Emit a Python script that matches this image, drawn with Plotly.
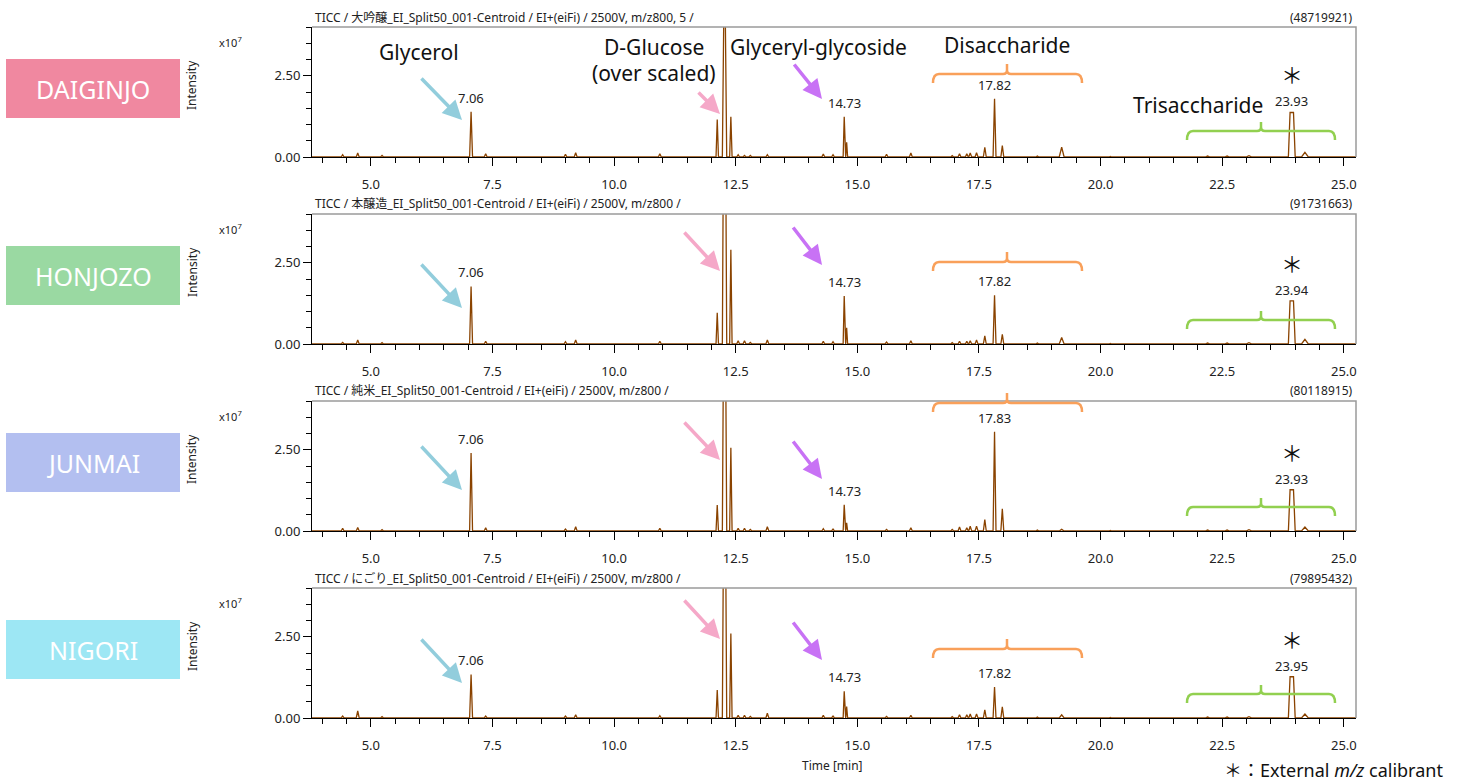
import plotly.graph_objects as go

W, H = 1467, 783
FONT = "Noto Sans, Noto Sans CJK JP, sans-serif"

# ---------------- data ----------------
samples = ["DAIGINJO", "HONJOZO", "JUNMAI", "NIGORI"]
sample_colors = ["#F088A0", "#9AD9A2", "#B3BFF0", "#9DE7F4"]
titles = [
    "TICC / 大吟醸_EI_Split50_001-Centroid / EI+(eiFi) / 2500V, m/z800, 5 /",
    "TICC / 本醸造_EI_Split50_001-Centroid / EI+(eiFi) / 2500V, m/z800 /",
    "TICC / 純米_EI_Split50_001-Centroid / EI+(eiFi) / 2500V, m/z800 /",
    "TICC / にごり_EI_Split50_001-Centroid / EI+(eiFi) / 2500V, m/z800 /",
]
max_intensity = ["(48719921)", "(91731663)", "(80118915)", "(79895432)"]

# retention times [min] of the peaks in the TIC chromatograms
peak_times = [4.42, 4.73, 5.23, 7.06, 7.36, 9.00, 9.21, 10.94, 12.12, 12.27,
              12.40, 12.55, 12.68, 12.80, 13.15, 14.30, 14.50, 14.73, 14.78, 15.60,
              16.10, 16.95, 17.10, 17.25, 17.32, 17.45, 17.62, 17.82, 17.98, 18.70,
              19.20, 20.20, 22.20, 22.60, 23.05, 23.93, 24.20, 24.70]
# peak half widths at base [min]
peak_halfwidths = [0.03, 0.03, 0.03, 0.03, 0.03, 0.03, 0.03, 0.03, 0.025, 0.045,
                   0.025, 0.03, 0.03, 0.03, 0.03, 0.03, 0.03, 0.022, 0.02, 0.03,
                   0.03, 0.03, 0.03, 0.03, 0.03, 0.03, 0.03, 0.03, 0.03, 0.03,
                   0.05, 0.03, 0.05, 0.05, 0.06, 0.07, 0.07, 0.03]
# flat-top half widths [min]
peak_plateaus = [0, 0, 0, 0, 0, 0, 0, 0, 0, 0.012,
                 0, 0, 0, 0, 0, 0, 0, 0, 0, 0,
                 0, 0, 0, 0, 0, 0, 0, 0, 0, 0,
                 0, 0, 0, 0, 0, 0.035, 0, 0]
# intensities (x10^7) per sample
heights_daiginjo = [0.07, 0.12, 0.05, 1.39, 0.10, 0.08, 0.13, 0.10, 1.15, 4.87,
                    1.24, 0.07, 0.05, 0.05, 0.07, 0.09, 0.07, 1.24, 0.45, 0.08,
                    0.12, 0.04, 0.10, 0.10, 0.12, 0.13, 0.30, 1.79, 0.35, 0.03,
                    0.30, 0.02, 0.03, 0.03, 0.04, 1.37, 0.14, 0.02]
heights_honjozo = [0.05, 0.12, 0.04, 1.77, 0.08, 0.07, 0.12, 0.08, 0.96, 9.17,
                   2.90, 0.10, 0.10, 0.05, 0.12, 0.08, 0.07, 1.48, 0.50, 0.06,
                   0.10, 0.04, 0.08, 0.08, 0.10, 0.12, 0.25, 1.50, 0.30, 0.03,
                   0.20, 0.02, 0.03, 0.03, 0.04, 1.33, 0.14, 0.02]
heights_junmai = [0.08, 0.11, 0.04, 2.40, 0.10, 0.06, 0.13, 0.08, 0.80, 8.01,
                  2.56, 0.08, 0.08, 0.05, 0.13, 0.07, 0.06, 0.81, 0.25, 0.05,
                  0.10, 0.05, 0.12, 0.10, 0.15, 0.15, 0.35, 3.05, 0.68, 0.03,
                  0.05, 0.02, 0.03, 0.03, 0.04, 1.27, 0.12, 0.02]
heights_nigori = [0.06, 0.22, 0.04, 1.34, 0.06, 0.06, 0.10, 0.07, 0.86, 7.99,
                  2.60, 0.08, 0.08, 0.05, 0.15, 0.08, 0.06, 0.82, 0.35, 0.05,
                  0.08, 0.04, 0.10, 0.10, 0.12, 0.12, 0.25, 0.95, 0.34, 0.03,
                  0.10, 0.02, 0.03, 0.03, 0.04, 1.27, 0.12, 0.02]
all_heights = [heights_daiginjo, heights_honjozo, heights_junmai, heights_nigori]

labeled_times = [7.06, 14.73, 17.82, 23.93]
calibrant_time = 23.93
rt_labels = [
    ["7.06", "14.73", "17.82", "23.93"],
    ["7.06", "14.73", "17.82", "23.94"],
    ["7.06", "14.73", "17.83", "23.93"],
    ["7.06", "14.73", "17.82", "23.95"],
]
x_tick_vals = [5.0, 7.5, 10.0, 12.5, 15.0, 17.5, 20.0, 22.5, 25.0]
x_tick_text = ["5.0", "7.5", "10.0", "12.5", "15.0", "17.5", "20.0", "22.5", "25.0"]
y_tick_vals = [0, 2.5e7]
y_tick_text = ["0.00", "2.50"]
SCALE = 1e7
X_RANGE = [3.79, 25.25]
Y_RANGE = [0, 4.0e7]

# ---------------- layout helpers ----------------
def px(x):
    return x / W

def py(y):
    return 1 - y / H

PLOT_L, PLOT_R = 312, 1356
PANEL_TOP0, PANEL_H, PANEL_STEP = 27, 130, 187

fig = go.Figure()
annotations = []
shapes = []


def text_at(x, y, text, size, color="#222", xanchor="center", yanchor="middle", **kw):
    annotations.append(dict(xref="paper", yref="paper", x=px(x), y=py(y), text=text,
                            showarrow=False, xanchor=xanchor, yanchor=yanchor,
                            font=dict(size=size, color=color, family=kw.pop("family", FONT)),
                            **kw))


for i in range(4):
    top = PANEL_TOP0 + PANEL_STEP * i
    bot = top + PANEL_H
    xa = "xaxis" if i == 0 else f"xaxis{i+1}"
    ya = "yaxis" if i == 0 else f"yaxis{i+1}"
    xr = "x" if i == 0 else f"x{i+1}"
    yr = "y" if i == 0 else f"y{i+1}"

    # build the chromatogram polyline from peak table
    xs, ys = [X_RANGE[0]], [0]
    for t, hw, pl, h in zip(peak_times, peak_halfwidths, peak_plateaus, all_heights[i]):
        xs += [t - hw, t - pl, t + pl, t + hw]
        ys += [0, h * SCALE, h * SCALE, 0]
    xs.append(X_RANGE[1])
    ys.append(0)
    fig.add_trace(go.Scatter(
        x=xs, y=ys, mode="lines", xaxis=xr, yaxis=yr,
        line=dict(color="#8A4300", width=1.3),
        hoverinfo="skip", showlegend=False,
    ))

    fig.layout[xa] = dict(
        domain=[px(PLOT_L), px(PLOT_R)], range=X_RANGE, anchor=yr, automargin=False,
        showgrid=False, zeroline=False, showline=True, linecolor="black", linewidth=1,
        ticks="outside", ticklen=8, tickcolor="black", tickwidth=1,
        tickvals=x_tick_vals, ticktext=x_tick_text, ticklabelstandoff=7,
        tickfont=dict(size=13, color="#222", family=FONT),
        minor=dict(dtick=0.5, tick0=0, ticks="outside", ticklen=5, tickcolor="black"),
    )
    fig.layout[ya] = dict(
        domain=[py(bot), py(top)], range=Y_RANGE, anchor=xr, automargin=False,
        showgrid=False, zeroline=False, showline=True, linecolor="black", linewidth=1,
        ticks="outside", ticklen=8, tickcolor="black", tickwidth=1,
        tickvals=y_tick_vals, ticktext=y_tick_text,
        tickfont=dict(size=13, color="#222", family=FONT),
        minor=dict(dtick=0.5e7, tick0=0, ticks="outside", ticklen=5, tickcolor="black"),
    )

    # gray top/right frame
    shapes.append(dict(type="path", xref="paper", yref="paper",
                       path=f"M {px(PLOT_L)},{py(top)} L {px(PLOT_R)},{py(top)} L {px(PLOT_R)},{py(bot)}",
                       line=dict(color="#9A9A9A", width=1.5)))

    # titles
    text_at(PLOT_L + 1, top - 10, titles[i], 12, xanchor="left")
    text_at(PLOT_R - 1, top - 10, max_intensity[i], 12, xanchor="right")
    # y axis label & exponent
    text_at(192, top + 58, "Intensity", 12, textangle=-90)
    text_at(231, top + 15, "x10<sup>7</sup>", 11)
    # sample box
    bt = 59 + PANEL_STEP * i
    shapes.append(dict(type="rect", xref="paper", yref="paper",
                       x0=px(6), x1=px(180), y0=py(bt + 59), y1=py(bt),
                       fillcolor=sample_colors[i], line=dict(width=0), layer="below"))
    text_at(93, bt + 30, samples[i], 25, color="white")

    # retention-time labels
    for t, lab in zip(labeled_times, rt_labels[i]):
        k = peak_times.index(t)
        annotations.append(dict(xref=xr, yref=yr, x=t, y=all_heights[i][k] * SCALE,
                                text=lab, showarrow=False, xanchor="center", yanchor="bottom",
                                yshift=0 if t == calibrant_time else 3,
                                font=dict(size=13, color="#222", family=FONT)))
    # calibrant asterisk
    k = peak_times.index(calibrant_time)
    annotations.append(dict(xref=xr, yref=yr, x=calibrant_time, y=all_heights[i][k] * SCALE,
                            text="＊", showarrow=False, xanchor="center", yanchor="bottom",
                            yshift=21, font=dict(size=22, color="#111", family="Noto Sans CJK JP")))

# ---------------- arrows ----------------
arrow_specs = {
    "#92CDDC": [((420, 77), (462, 120)), ((420, 263), (462, 308)),
                ((420, 445), (462, 490)), ((420, 638), (462, 683))],
    "#F5A8C8": [((697, 91), (720, 114)), ((683, 231), (720, 271)),
                ((683, 421), (720, 460)), ((683, 599), (720, 639))],
    "#C872F5": [((793, 63), (822, 99)), ((792, 226), (822, 265)),
                ((792, 440), (822, 479)), ((792, 621), (822, 660))],
}
for col, lst in arrow_specs.items():
    for (tx, ty), (hx, hy) in lst:
        annotations.append(dict(xref="paper", yref="paper", x=px(hx), y=py(hy),
                                ax=tx - hx, ay=ty - hy, text="", showarrow=True,
                                arrowhead=2, arrowsize=1.1, arrowwidth=3.5,
                                arrowcolor=col, standoff=0))

# ---------------- brackets ----------------
def brace(x0, x1, xc, y, drop, rise, r=6):
    return (f"M {px(x0)},{py(y + drop)} "
            f"Q {px(x0)},{py(y)} {px(x0 + r)},{py(y)} "
            f"L {px(xc - 4)},{py(y)} "
            f"Q {px(xc)},{py(y)} {px(xc)},{py(y - 4)} "
            f"L {px(xc)},{py(y - rise)} "
            f"M {px(xc)},{py(y - 4)} "
            f"Q {px(xc)},{py(y)} {px(xc + 4)},{py(y)} "
            f"L {px(x1 - r)},{py(y)} "
            f"Q {px(x1)},{py(y)} {px(x1)},{py(y + drop)}")

orange_y = [74, 262, 403, 649]
green_y = [131, 320, 507, 694]
for i in range(4):
    shapes.append(dict(type="path", xref="paper", yref="paper",
                       path=brace(933, 1082, 1007, orange_y[i], 9, 10),
                       line=dict(color="#F9A05A", width=2.5)))
    shapes.append(dict(type="path", xref="paper", yref="paper",
                       path=brace(1187, 1335, 1261, green_y[i], 9, 9),
                       line=dict(color="#92D050", width=2.5)))

# ---------------- compound names ----------------
for txt, x, y in [("Glycerol", 419, 52), ("D-Glucose", 654, 47), ("(over scaled)", 654, 73),
                  ("Glyceryl-glycoside", 818, 47), ("Disaccharide", 1007, 45),
                  ("Trisaccharide", 1198, 105)]:
    text_at(x, y, txt, 21, color="#111")

text_at(833, 765, "Time [min]", 12)
text_at(1222, 770, "＊：External <i>m/z</i> calibrant", 18, color="#111", xanchor="left")

fig.update_layout(
    template="none",
    width=W, height=H, margin=dict(l=0, r=0, t=0, b=0, autoexpand=False),
    paper_bgcolor="white", plot_bgcolor="white",
    annotations=annotations, shapes=shapes, showlegend=False,
    font=dict(family=FONT),
)

fig.write_html("out.html", config={"displayModeBar": False, "responsive": False},
               post_script="document.body.style.margin='0px';")
